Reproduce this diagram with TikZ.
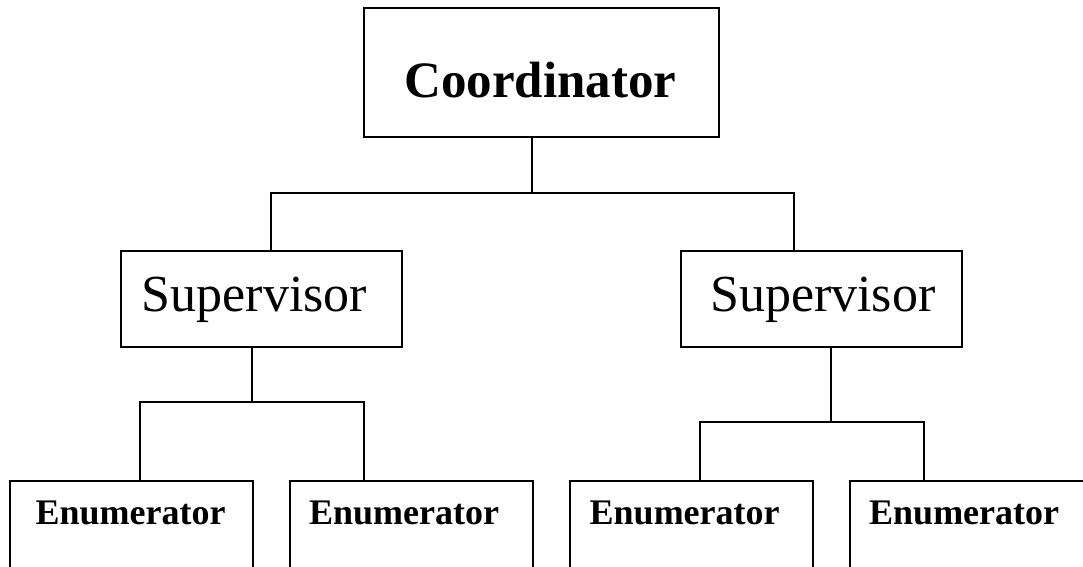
\documentclass[tikz,border=0pt]{standalone}
\usepackage{fontspec}
\setmainfont{Liberation Serif}
\begin{document}
\begin{tikzpicture}[x=1pt,y=1pt,
  box/.style={draw, line width=2pt, rectangle, inner sep=0pt, minimum width=#1},
  conn/.style={line width=2pt},
  bigbold/.style={inner sep=0pt, anchor=base west, font=\fontsize{51}{51}\selectfont\bfseries},
  bigreg/.style={inner sep=0pt, anchor=base west, font=\fontsize{52}{52}\selectfont},
  smallbold/.style={inner sep=0pt, anchor=base west, font=\fontsize{36}{36}\selectfont\bfseries}]
\useasboundingbox (0,0) rectangle (1083,-566);
\clip (0,0) rectangle (1083,-566);
% boxes
\node[box=355pt, minimum height=129pt] (coord) at (541.5,-72.5) {};
\node[box=281pt, minimum height=96pt] (sup1) at (261.5,-299) {};
\node[box=281pt, minimum height=96pt] (sup2) at (821.5,-299) {};
\node[box=243.4pt, minimum height=160pt, anchor=north west] (en1) at (8.6,-480) {};
\node[box=243.4pt, minimum height=160pt, anchor=north west] (en2) at (288.6,-480) {};
\node[box=242.6pt, minimum height=160pt, anchor=north west] (en3) at (569.4,-480) {};
\node[box=250pt, minimum height=160pt, anchor=north west] (en4) at (849,-480) {};
% texts
\node[bigbold] (tcoord) at (404,-97) {Coordinator};
\node[bigreg] (tsup1) at (141.7,-311) {Supervisor};
\node[bigreg] (tsup2) at (710,-311) {Supervisor};
\node[smallbold] (ten1) at (35.5,-524.6) {Enumerator};
\node[smallbold] (ten2) at (309,-524.6) {Enumerator};
\node[smallbold] (ten3) at (589.5,-524.6) {Enumerator};
\node[smallbold] (ten4) at (869,-524.6) {Enumerator};
% junctions
\coordinate (j0) at (532,-193);
\coordinate (j0l) at (270.7,-193);
\coordinate (j0r) at (793.7,-193);
\coordinate (j1) at (252,-402);
\coordinate (j1l) at (140,-402);
\coordinate (j1r) at (363.6,-402);
\coordinate (j2) at (830.5,-421.5);
\coordinate (j2l) at (700,-421.5);
\coordinate (j2r) at (924,-421.5);
% connectors
\draw[conn] (coord.south -| j0) -- (j0);
\draw[conn] (sup1.north -| j0l) -- (j0l) -- (j0r) -- (sup2.north -| j0r);
\draw[conn] (sup1.south -| j1) -- (j1);
\draw[conn] (en1.north -| j1l) -- (j1l) -- (j1r) -- (en2.north -| j1r);
\draw[conn] (sup2.south -| j2) -- (j2);
\draw[conn] (en3.north -| j2l) -- (j2l) -- (j2r) -- (en4.north -| j2r);
\end{tikzpicture}
\end{document}
